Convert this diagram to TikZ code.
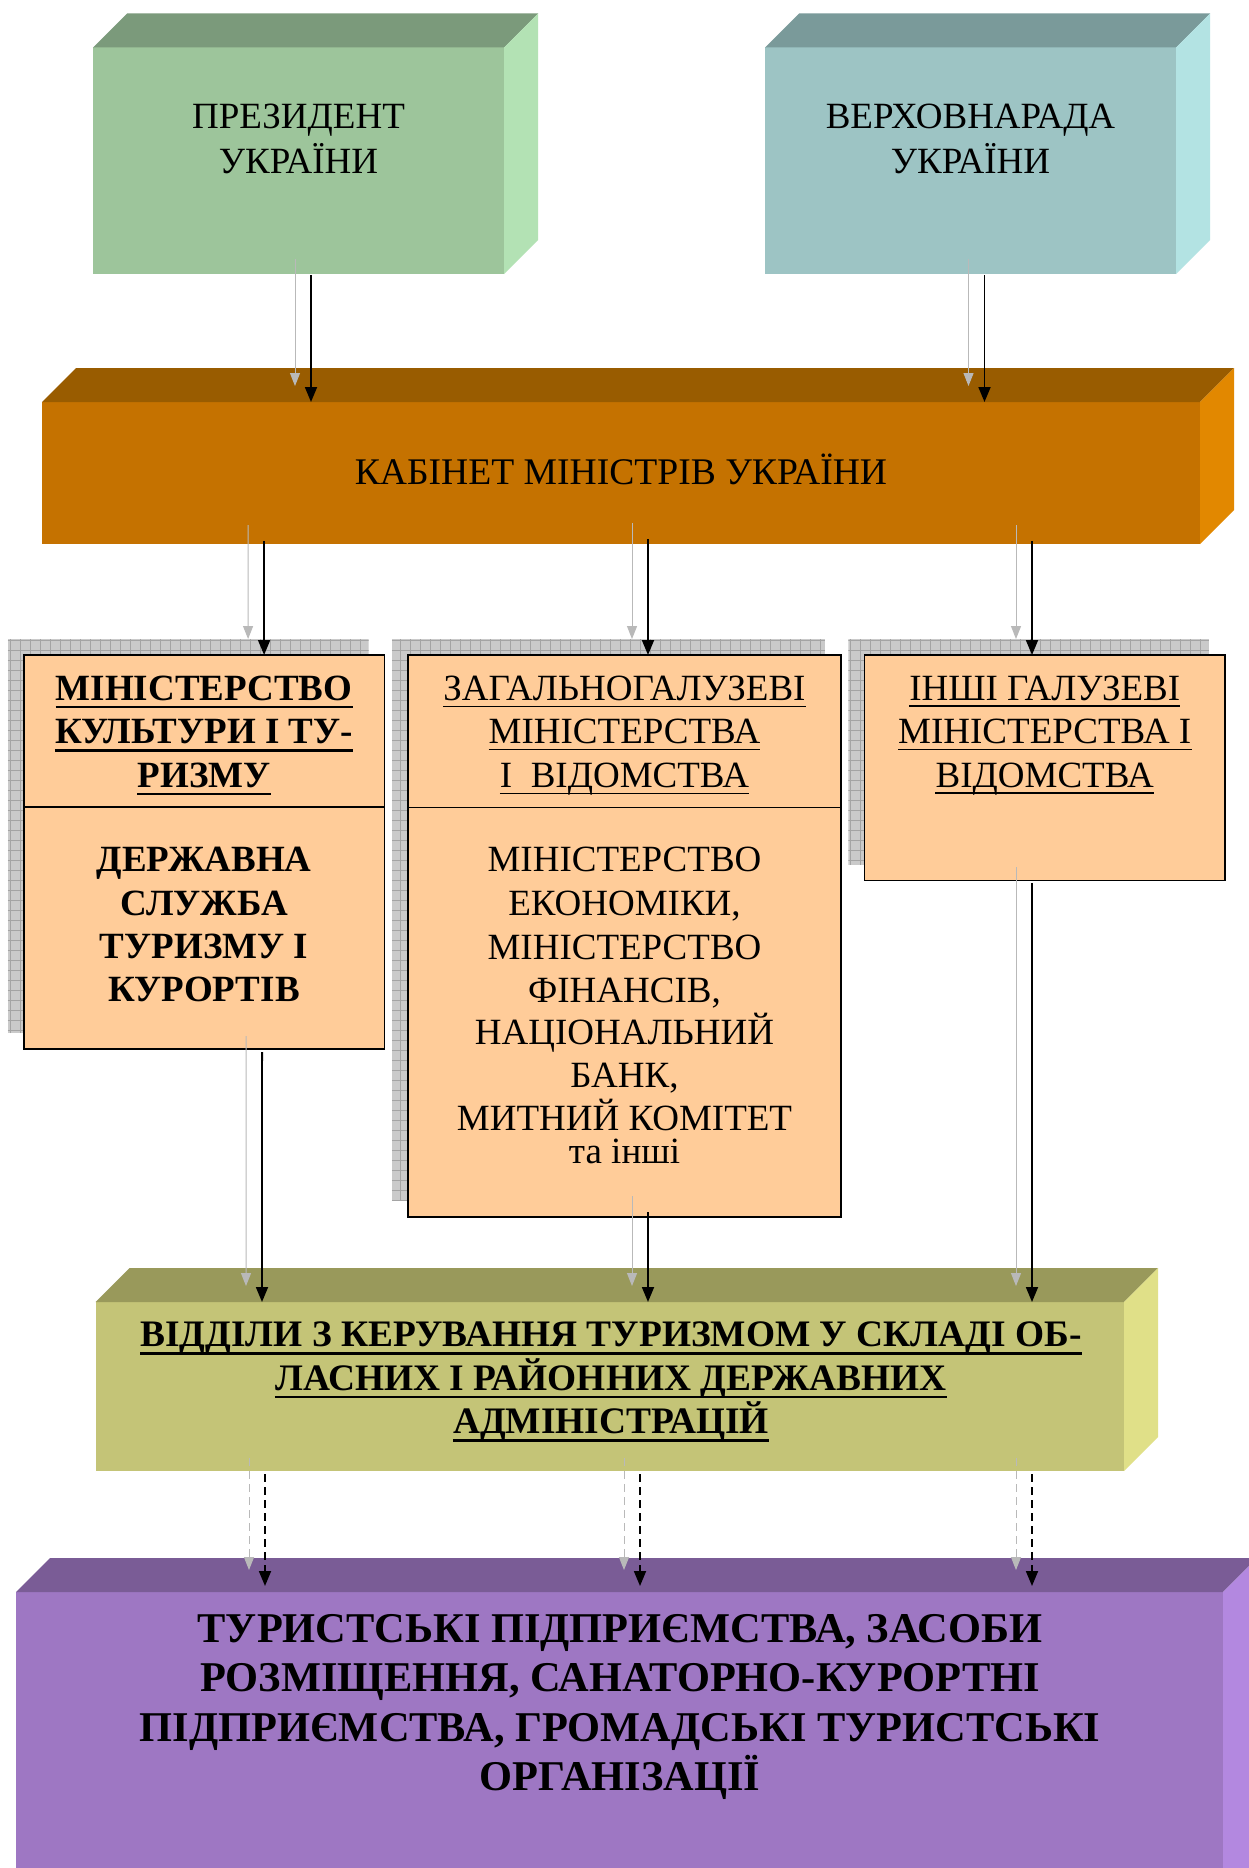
\documentclass[tikz,border=0pt]{standalone}
\usepackage{fontspec}
\setmainfont{Liberation Serif}
\usetikzlibrary{arrows.meta,calc}
\definecolor{presF}{HTML}{9DC59B}
\definecolor{presT}{HTML}{7B9A7B}
\definecolor{presS}{HTML}{B3E2B4}
\definecolor{verkF}{HTML}{9DC4C4}
\definecolor{verkT}{HTML}{7A9A9A}
\definecolor{verkS}{HTML}{B3E3E3}
\definecolor{cabF}{HTML}{C57200}
\definecolor{cabT}{HTML}{995C00}
\definecolor{cabS}{HTML}{E28800}
\definecolor{oliF}{HTML}{C4C477}
\definecolor{oliT}{HTML}{99995B}
\definecolor{oliS}{HTML}{E0E088}
\definecolor{purF}{HTML}{9E77C3}
\definecolor{purT}{HTML}{7A5C96}
\definecolor{purS}{HTML}{B388E0}
\definecolor{peach}{HTML}{FFCC99}
\definecolor{shadeF}{HTML}{CACACA}
\definecolor{shadeL}{HTML}{A4A4A4}
\newcommand\cubebox[8]{%
  \node[cubefront, fill=#6, minimum width=#4, minimum height=#5] (#1) at (#2,#3) {};
  \fill[#7] (#1.north west) -- ++(34,-34) -- ([shift={(34,-34)}]#1.north east) -- (#1.north east) -- cycle;
  \fill[#8] (#1.north east) -- ++(34,-34) -- ([shift={(34,-34)}]#1.south east) -- (#1.south east) -- cycle;
}
\newcommand\shadebox[1]{%
  \begin{scope}
    \clip ([shift={(-16,-16)}]#1.north west) rectangle ([shift={(-16,-16)}]#1.south east);
    \fill[shadeF] ([shift={(-16,-16)}]#1.north west) rectangle ([shift={(-16,-16)}]#1.south east);
    \draw[shadeL, line width=0.8pt, step=10pt] ([shift={(-16,-16)}]#1.north west) grid ([shift={(-16,-16)}]#1.south east);
  \end{scope}
}
\newcommand\ulbold[1]{\draw[line width=2.8pt] ([yshift=-7pt]#1.base west) -- ([yshift=-7pt]#1.base east);}
\newcommand\ulreg[1]{\draw[line width=1.6pt] ([yshift=-6pt]#1.base west) -- ([yshift=-6pt]#1.base east);}
\newcommand\duo[3][]{%
  \draw[gra,#1,transform canvas={shift={(-16,-16)}}] #2 -- #3;
  \draw[blk,#1] #2 -- #3;
}
\begin{document}
\begin{tikzpicture}[x=1pt,y=-1pt,
  cubefront/.style={draw=none, inner sep=0pt, outer sep=0pt},
  mbox/.style={draw=black, line width=1.6pt, fill=peach, inner sep=0pt, outer sep=0pt},
  reg/.style={font=\fontsize{37}{43}\selectfont, inner sep=0pt, anchor=base},
  bld/.style={font=\fontsize{37}{43}\selectfont\bfseries, inner sep=0pt, anchor=base},
  oliB/.style={font=\fontsize{37.4}{43}\selectfont\bfseries, inner sep=0pt, anchor=base},
  bigb/.style={font=\fontsize{42.4}{49}\selectfont\bfseries, inner sep=0pt, anchor=base},
  blk/.style={draw=black, line width=1.8pt, -{Triangle[length=15pt,width=12pt]}},
  gra/.style={draw=gray!55, line width=1pt, -{Triangle[length=13pt,width=10pt]}},
  dsh/.style={dash pattern=on 8pt off 5pt}]
\clip (0,0) rectangle (1249,1868);
\fill[white] (0,0) rectangle (1249,1868);

% 3D blocks
\cubebox{pres}{298.5}{160.75}{411pt}{226.5pt}{presF}{presT}{presS}
\cubebox{verk}{970.5}{160.75}{411pt}{226.5pt}{verkF}{verkT}{verkS}
\cubebox{cab}{621}{473}{1158pt}{142pt}{cabF}{cabT}{cabS}
\cubebox{oli}{609.8}{1386.5}{1028.4pt}{169pt}{oliF}{oliT}{oliS}
\cubebox{pur}{619.5}{1746}{1207pt}{308pt}{purF}{purT}{purS}

% ministry boxes with shadows
\path (204.1,852) node[minimum width=360.8pt, minimum height=394pt, inner sep=0pt] (b1) {};
\path (624.5,936) node[minimum width=433pt, minimum height=562pt, inner sep=0pt] (b2) {};
\path (1044.75,767.75) node[minimum width=360.5pt, minimum height=225.5pt, inner sep=0pt] (b3) {};
\shadebox{b1}
\shadebox{b2}
\shadebox{b3}
\node[mbox, minimum width=360.8pt, minimum height=394pt] (m1) at (b1) {};
\node[mbox, minimum width=433pt, minimum height=562pt] (m2) at (b2) {};
\node[mbox, minimum width=360.5pt, minimum height=225.5pt] (m3) at (b3) {};
\draw[line width=1.6pt] ($(m1.north west)+(0,152)$) -- ($(m1.north east)+(0,152)$);
\draw[line width=1.6pt] ($(m2.north west)+(0,152.5)$) -- ($(m2.north east)+(0,152.5)$);

% texts
\node[reg] (p1) at (298.5,128.6) {ПРЕЗИДЕНТ};
\node[reg] (p2) at (298.5,173) {УКРАЇНИ};
\node[reg] (v1) at (970.5,128.6) {ВЕРХОВНАРАДА};
\node[reg] (v2) at (970.5,173) {УКРАЇНИ};
\node[reg, font=\fontsize{37.6}{43}\selectfont] (c1) at (621,484) {КАБІНЕТ МІНІСТРІВ УКРАЇНИ};

\node[bld] (a1) at (204.1,700) {МІНІСТЕРСТВО}; \ulbold{a1}
\node[bld] (a2) at (204.1,743.5) {КУЛЬТУРИ І ТУ-}; \ulbold{a2}
\node[bld] (a3) at (204.1,787) {РИЗМУ}; \ulbold{a3}
\node[bld] (a4) at (204.1,871.7) {ДЕРЖАВНА};
\node[bld] (a5) at (204.1,915) {СЛУЖБА};
\node[bld] (a6) at (204.1,958.5) {ТУРИЗМУ І};
\node[bld] (a7) at (204.1,1001.7) {КУРОРТІВ};

\node[reg] (g1) at (624.5,700.4) {ЗАГАЛЬНОГАЛУЗЕВІ}; \ulreg{g1}
\node[reg] (g2) at (624.5,743.5) {МІНІСТЕРСТВА}; \ulreg{g2}
\node[reg] (g3) at (624.5,787.5) {І\ \ ВІДОМСТВА}; \ulreg{g3}
\node[reg] (g4) at (624.5,871.8) {МІНІСТЕРСТВО};
\node[reg] (g5) at (624.5,915) {ЕКОНОМІКИ,};
\node[reg] (g6) at (624.5,959) {МІНІСТЕРСТВО};
\node[reg] (g7) at (624.5,1002.5) {ФІНАНСІВ,};
\node[reg] (g8) at (624.5,1044.8) {НАЦІОНАЛЬНИЙ};
\node[reg] (g9) at (624.5,1087.6) {БАНК,};
\node[reg] (g10) at (624.5,1130) {МИТНИЙ КОМІТЕТ};
\node[reg] (g11) at (624.5,1163) {та інші};

\node[reg] (i1) at (1044.75,700) {ІНШІ ГАЛУЗЕВІ}; \ulreg{i1}
\node[reg] (i2) at (1044.75,743.5) {МІНІСТЕРСТВА І}; \ulreg{i2}
\node[reg] (i3) at (1044.75,787) {ВІДОМСТВА}; \ulreg{i3}

\node[oliB] (o1) at (611,1346.6) {ВІДДІЛИ З КЕРУВАННЯ ТУРИЗМОМ У СКЛАДІ ОБ-}; \ulbold{o1}
\node[oliB] (o2) at (611,1390) {ЛАСНИХ І РАЙОННИХ ДЕРЖАВНИХ}; \ulbold{o2}
\node[oliB] (o3) at (611,1433.3) {АДМІНІСТРАЦІЙ}; \ulbold{o3}

\node[bigb] (t1) at (620,1642) {ТУРИСТСЬКІ ПІДПРИЄМСТВА, ЗАСОБИ};
\node[bigb] (t2) at (620,1691.5) {РОЗМІЩЕННЯ, САНАТОРНО-КУРОРТНІ};
\node[bigb] (t3) at (620,1741) {ПІДПРИЄМСТВА, ГРОМАДСЬКІ ТУРИСТСЬКІ};
\node[bigb] (t4) at (620,1790) {ОРГАНІЗАЦІЇ};

% connectors
\duo{($(pres.south)+(12.5,1)$)}{($(cab.north)+(-310,0)$)}
\duo{($(verk.south)+(14,1)$)}{($(cab.north)+(363.5,0)$)}

\duo{($(cab.south)+(-357,-3)$)}{($(m1.north)+(60,0)$)}
\duo{($(cab.south)+(27,-5)$)}{($(m2.north)+(23.5,0)$)}
\duo{($(cab.south)+(411,-3)$)}{($(m3.north)+(-12.75,0)$)}

\duo{($(m1.south)+(58,3)$)}{($(oli.north)+(-347.8,0)$)}
\duo{($(m2.south)+(23.5,-5)$)}{($(oli.north)+(38.2,0)$)}
\duo{($(m3.south)+(-12.75,2.5)$)}{($(oli.north)+(422.2,0)$)}

\duo[dsh]{($(oli.south)+(-344.8,3)$)}{($(pur.north)+(-354.5,-6)$)}
\duo[dsh]{($(oli.south)+(30.2,3)$)}{($(pur.north)+(20.5,-6)$)}
\duo[dsh]{($(oli.south)+(422.2,3)$)}{($(pur.north)+(412.5,-6)$)}
\end{tikzpicture}
\end{document}
